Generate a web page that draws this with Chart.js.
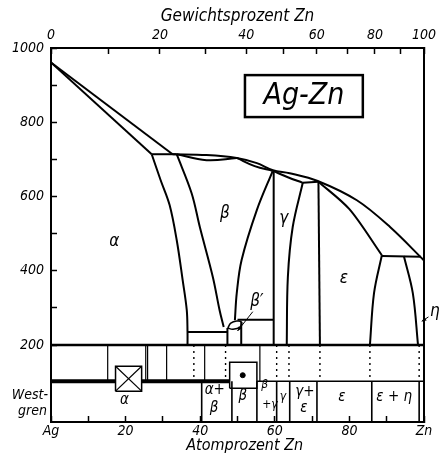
<!DOCTYPE html>
<html>
<head>
<meta charset="utf-8">
<script src="https://cdn.jsdelivr.net/npm/chart.js@4"></script>
<style>
  html, body { margin: 0; padding: 0; background: #fff; }
  canvas { display: block; }
</style>
</head>
<body>
<canvas id="chart" width="440" height="457"></canvas>
<script>
// phase boundaries, [atom-% Zn, temperature °C]
const liquidusAlpha = [[0, 961], [32.6, 714]];
const solidusAlpha = [[0, 961], [27.0, 714]];
const liquidusUpper = [[32.6, 714], [41.7, 712], [49.8, 704], [55.2, 690], [59.5, 671], [64.0, 663], [71.5, 642], [82.0, 590], [90.9, 518], [100, 428]];
const peritecticAlpha = [[27.0, 714], [33.7, 714]];
const lensBeta = [[33.7, 714], [41.7, 698], [49.8, 704]];
const lensMid = [[49.8, 704], [54.6, 682], [59.5, 669]];
const lensGamma = [[59.5, 669], [63.5, 652], [67.5, 637]];
const peritecticGamma = [[67.5, 637], [71.7, 640]];
const solidusEps = [[71.7, 640], [80.0, 566], [88.7, 442]];
const peritecticEps = [[88.7, 440], [99.2, 438]];
const solvusAlpha = [[27.0, 714], [29.4, 644], [31.8, 577], [33.7, 483], [35.3, 375], [36.4, 294], [36.6, 235], [36.6, 200]];
const betaLeft = [[33.7, 714], [37.7, 609], [39.9, 518], [43.4, 383], [45.2, 294], [46.3, 249]];
const betaRight = [[59.4, 668], [55.2, 564], [51.1, 429], [49.8, 340], [49.3, 267]];
const betaPrime = [[47.4, 246], [48.2, 259], [49.8, 265], [51.1, 262], [50.6, 248], [48.7, 243], [47.4, 246]];
const betaPrimeFloor = [[36.6, 235], [47.3, 235]];
const betaPrimeLeft = [[47.3, 246], [47.3, 200]];
const betaPrimeRight = [[51.0, 262], [51.0, 200]];
const betaPrimeTop = [[50.0, 268], [59.7, 268]];
const gammaLeft = [[59.7, 668], [59.7, 200]];
const gammaRight = [[67.5, 637], [64.8, 518], [63.5, 383], [63.2, 200]];
const epsLeft = [[71.7, 640], [72.1, 200]];
const epsRight = [[88.7, 442], [86.6, 340], [85.5, 200]];
const etaLeft = [[94.6, 440], [97.0, 340], [98.4, 200]];

// Westgren strip (room temperature constitution)
const stripTop = 200;
const stripMid = 103;
const stripBottom = -7;
const westgrenBounds = [40.4, 48.5, 55.2, 60.5, 64.0, 71.3, 86.0, 98.7];
const upperSolid = [15.2, 25.4, 25.9, 31.0, 41.2, 56.0];
const upperDotted = [38.3, 46.8, 60.5, 63.8, 72.1, 85.5, 98.7];
const crossBox = [17.3, 24.3, 76, 143];
const dotBox = [47.9, 55.2, 84, 154];
const dotPoint = [[51.4, 119]];

// labels
const phaseLabels = ['α', 'β', 'γ', 'ε', 'β′', 'η'];
const phaseLabelAt = [[17.0, 480], [46.6, 553], [62.4, 542], [78.5, 380], [55.2, 318], [102.9, 289]];
const westgrenLabels = ['α', 'α+', 'β', 'β', 'β', '+γ', 'γ', 'γ+', 'ε', 'ε', 'ε + η'];
const westgrenLabelAt = [[19.7, 52], [43.9, 79], [43.7, 30], [51.4, 63], [57.3, 92], [58.7, 38], [62.2, 60], [68.1, 73], [67.8, 30], [78.0, 60], [92.0, 60]];
const atTicks = [0, 10, 20, 30, 40, 50, 60, 70, 80, 90, 100];
const wtTicks = [0, 10, 20, 30, 40, 50, 60, 70, 80, 90, 100];
const tempTicks = [200, 300, 400, 500, 600, 700, 800, 900, 1000];

const M_ZN = 65.38, M_AG = 107.87;
function atFromWt(w) {
	const zn = w / M_ZN, ag = (100 - w) / M_AG;
	return 100 * zn / (zn + ag);
}

const FONT = '"DejaVu Sans Condensed", "DejaVu Sans", sans-serif';

function line(points, extra) {
	return Object.assign({
		data: points.map(p => ({ x: p[0], y: p[1] })),
		showLine: true,
		pointRadius: 0,
		borderColor: '#000',
		borderWidth: 2,
		tension: 0,
		fill: false,
	}, extra || {});
}

const datasets = [
	line(liquidusAlpha),
	line(solidusAlpha),
	line(liquidusUpper, { tension: 0.35 }),
	line(peritecticAlpha),
	line(lensBeta, { tension: 0.4 }),
	line(lensMid, { tension: 0.4 }),
	line(lensGamma, { tension: 0.4 }),
	line(peritecticGamma),
	line(solidusEps, { tension: 0.3 }),
	line(peritecticEps),
	line(solvusAlpha, { tension: 0.35 }),
	line(betaLeft, { tension: 0.35 }),
	line(betaRight, { tension: 0.35 }),
	line(betaPrime, { tension: 0.4, borderWidth: 1.5 }),
	line(betaPrimeFloor),
	line(betaPrimeLeft),
	line(betaPrimeRight),
	line(betaPrimeTop),
	line(gammaLeft),
	line(gammaRight, { tension: 0.35 }),
	line(epsLeft),
	line(epsRight, { tension: 0.35 }),
	line(etaLeft, { tension: 0.35 }),
	// strip
	line([[0, stripTop], [100, stripTop]], { borderWidth: 2.5 }),
	line([[0, stripMid], [crossBox[0], stripMid]], { borderWidth: 4 }),
	line([[crossBox[1], stripMid], [dotBox[0], stripMid]], { borderWidth: 4 }),
	line([[dotBox[1], stripMid], [100, stripMid]], { borderWidth: 1.5 }),
	line([[crossBox[0], crossBox[2]], [crossBox[1], crossBox[2]], [crossBox[1], crossBox[3]], [crossBox[0], crossBox[3]], [crossBox[0], crossBox[2]]], { borderWidth: 1.5 }),
	line([[crossBox[0], crossBox[2]], [crossBox[1], crossBox[3]]], { borderWidth: 1.2 }),
	line([[crossBox[0], crossBox[3]], [crossBox[1], crossBox[2]]], { borderWidth: 1.2 }),
	line([[dotBox[0], dotBox[2]], [dotBox[1], dotBox[2]], [dotBox[1], dotBox[3]], [dotBox[0], dotBox[3]], [dotBox[0], dotBox[2]]], { borderWidth: 1.5 }),
	{ data: dotPoint.map(p => ({ x: p[0], y: p[1] })), pointRadius: 2.5, backgroundColor: '#000', borderColor: '#000', showLine: false },
];
for (const b of westgrenBounds) datasets.push(line([[b, stripMid], [b, stripBottom]], { borderWidth: 1.6 }));
for (const b of upperSolid) datasets.push(line([[b, stripTop], [b, stripMid]], { borderWidth: 1.2 }));
for (const b of upperDotted) datasets.push(line([[b, stripTop], [b, stripMid]], { borderWidth: 1.4, borderDash: [2, 4] }));

const labelPlugin = {
	id: 'labels',
	afterDatasetsDraw(chart) {
		const { ctx, scales: { x, y } } = chart;
		const px = v => x.getPixelForValue(v);
		const py = v => y.getPixelForValue(v);
		ctx.save();
		ctx.fillStyle = '#000';
		ctx.strokeStyle = '#000';
		ctx.textAlign = 'center';
		ctx.textBaseline = 'middle';
		ctx.font = 'italic 17px ' + FONT;
		phaseLabels.forEach((t, i) => ctx.fillText(t, px(phaseLabelAt[i][0]), py(phaseLabelAt[i][1])));
		westgrenLabels.forEach((t, i) => {
			ctx.font = (i >= 4 && i <= 6 ? 'italic 12px ' : 'italic 15px ') + FONT;
			ctx.fillText(t, px(westgrenLabelAt[i][0]), py(westgrenLabelAt[i][1]));
		});
		// arrows
		ctx.lineWidth = 1;
		const arrow = (x1, y1, x2, y2) => {
			const a = Math.atan2(py(y2) - py(y1), px(x2) - px(x1));
			ctx.beginPath();
			ctx.moveTo(px(x1), py(y1));
			ctx.lineTo(px(x2), py(y2));
			ctx.stroke();
			ctx.beginPath();
			ctx.moveTo(px(x2), py(y2));
			ctx.lineTo(px(x2) - 5 * Math.cos(a - 0.4), py(y2) - 5 * Math.sin(a - 0.4));
			ctx.lineTo(px(x2) - 5 * Math.cos(a + 0.4), py(y2) - 5 * Math.sin(a + 0.4));
			ctx.closePath();
			ctx.fill();
		};
		arrow(54.1, 290, 50.0, 238);
		arrow(101.2, 276, 99.4, 264);
		// title box
		ctx.lineWidth = 2.5;
		ctx.strokeRect(px(52.0), py(927), px(83.6) - px(52.0), py(814) - py(927));
		ctx.font = 'italic 30px ' + FONT;
		ctx.fillText('Ag-Zn', px(67.8), py(871));
		// strip caption
		ctx.font = 'italic 14px ' + FONT;
		ctx.textAlign = 'right';
		ctx.fillText('West-', x.left - 3, py(65));
		ctx.fillText('gren', x.left - 4, py(22));
		ctx.restore();
	}
};

const axisGrid = { drawOnChartArea: false, drawTicks: true, tickLength: -6, tickColor: '#000', tickWidth: 1.5 };
const axisBorder = { display: true, color: '#000', width: 2 };
const tickFont = { family: FONT, size: 14, style: 'italic' };
const noPadX = h => s => { s.height = h; s.paddingLeft = 0; s.paddingRight = 0; };
const noPadY = w => s => { s.width = w; s.paddingTop = 0; s.paddingBottom = 0; };

new Chart(document.getElementById('chart'), {
	type: 'scatter',
	data: { datasets: datasets },
	options: {
		responsive: false,
		animation: false,
		devicePixelRatio: 1,
		layout: { padding: 0 },
		plugins: { legend: { display: false }, tooltip: { enabled: false } },
		scales: {
			x: {
				type: 'linear', position: 'bottom', min: 0, max: 100,
				afterBuildTicks: s => { s.ticks = atTicks.map(v => ({ value: v })); },
				afterFit: noPadX(35),
				ticks: {
					autoSkip: false, maxRotation: 0, padding: 7, color: '#000', font: tickFont,
					callback: v => v === 0 ? 'Ag' : v === 100 ? 'Zn' : (v % 20 === 0 ? v : ''),
				},
				grid: axisGrid, border: axisBorder,
				title: { display: true, text: '\u2003Atomprozent Zn', color: '#000', font: { family: FONT, size: 16, style: 'italic' }, padding: { top: 0, bottom: 2 } },
			},
			x2: {
				type: 'linear', position: 'top', min: 0, max: 100,
				afterBuildTicks: s => { s.ticks = wtTicks.map(w => ({ value: atFromWt(w) })); },
				afterFit: noPadX(48),
				ticks: {
					autoSkip: false, maxRotation: 0, padding: 10, color: '#000', font: tickFont,
					callback: (v, i) => wtTicks[i] % 20 === 0 ? wtTicks[i] : '',
				},
				grid: axisGrid, border: axisBorder,
				title: { display: true, text: 'Gewichtsprozent Zn', color: '#000', font: { family: FONT, size: 17, style: 'italic' }, padding: { top: 6, bottom: 0 } },
			},
			y: {
				type: 'linear', position: 'left', min: stripBottom, max: 1000,
				afterBuildTicks: s => { s.ticks = tempTicks.map(v => ({ value: v })); },
				afterFit: noPadY(51),
				ticks: {
					autoSkip: false, padding: 13, color: '#000', font: tickFont,
					callback: v => v % 200 === 0 ? v : '',
				},
				grid: axisGrid, border: axisBorder,
			},
			y2: {
				type: 'linear', position: 'right', min: stripBottom, max: 1000,
				afterFit: noPadY(16),
				ticks: { display: false },
				grid: { drawOnChartArea: false, drawTicks: false },
				border: axisBorder,
			},
		},
	},
	plugins: [labelPlugin],
});
</script>
</body>
</html>
